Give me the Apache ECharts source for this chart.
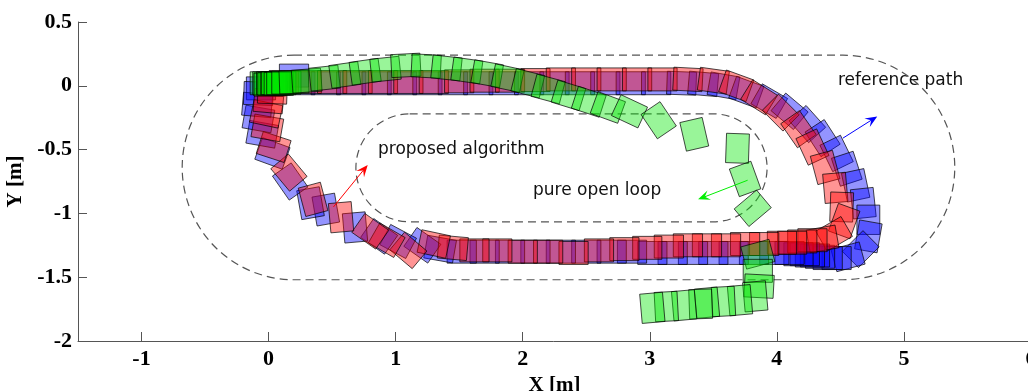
<!DOCTYPE html>
<html>
<head>
<meta charset="utf-8">
<title>Trajectories</title>
<script src="https://cdn.jsdelivr.net/npm/echarts@6/dist/echarts.min.js"></script>
<style>
  html, body { margin: 0; padding: 0; background: #fff; }
  #main { width: 1028px; height: 391px; }
</style>
</head>
<body>
<div id="main"></div>
<script>
// robot poses: [x (m), y (m), box angle (deg)]
const bluePoses = [
  [-0.06, -0.02, 0], [0.0, 0.01, 0], [0.06, 0.02, 0], [0.2, 0.08, 0], [0.25, 0.02, 0],
  [0.45, 0.02, 0], [0.65, 0.02, 0], [0.85, 0.02, 0], [1.05, 0.02, 0], [1.25, 0.02, 0],
  [1.45, 0.02, 0], [1.65, 0.02, 0], [1.85, 0.02, 0], [2.05, 0.02, 0], [2.25, 0.02, 0],
  [2.45, 0.02, 0], [2.65, 0.02, 0], [2.85, 0.02, 0], [3.05, 0.02, 0], [3.25, 0.02, -2],
  [3.42, 0.015, -5],
  [3.58, 0.0, -10], [3.76, -0.05, -20], [3.94, -0.12, -30], [4.1, -0.2, -40], [4.24, -0.3, -48],
  [4.36, -0.41, -57], [4.47, -0.53, -64], [4.55, -0.65, -72], [4.62, -0.78, -78], [4.68, -0.92, -84],
  [4.72, -1.05, -90], [4.72, -1.18, -100], [4.66, -1.28, -135], [4.56, -1.34, -165],
  [4.47, -1.35, 180], [4.4, -1.35, 180], [4.34, -1.34, 180], [4.3, -1.33, 180], [4.26, -1.33, 180],
  [4.22, -1.32, 180], [4.17, -1.32, 180], [4.1, -1.31, 180],
  [3.98, -1.31, 180], [3.82, -1.31, 180], [3.66, -1.31, 180], [3.5, -1.31, 180], [3.34, -1.31, 180],
  [3.18, -1.31, 180], [3.02, -1.31, 180], [2.86, -1.3, 180], [2.7, -1.3, 180], [2.5, -1.3, 180],
  [2.3, -1.3, 180], [2.1, -1.3, 180], [1.9, -1.3, 180], [1.7, -1.3, 180],
  [1.52, -1.3, 0], [1.35, -1.28, 170], [1.21, -1.25, 145], [1.02, -1.22, 152], [0.87, -1.18, 145],
  [0.68, -1.11, 95], [0.45, -0.97, 100], [0.33, -0.92, 100], [0.17, -0.75, 125], [0.03, -0.53, 160],
  [-0.05, -0.38, 170], [-0.08, -0.26, 170], [-0.09, -0.15, 175], [-0.08, -0.06, 178]
]

const redPoses = [
  [0.02, 0.01, 0], [0.07, 0.02, 0], [0.12, 0.03, 0], [0.3, 0.03, 0], [0.5, 0.03, 0],
  [0.7, 0.03, 0], [0.9, 0.03, 0], [1.1, 0.03, 0], [1.3, 0.03, 0], [1.5, 0.035, 0],
  [1.7, 0.04, 0], [1.9, 0.04, 0], [2.1, 0.045, 0], [2.3, 0.05, 0], [2.5, 0.05, 0],
  [2.7, 0.05, 0], [2.9, 0.05, 0], [3.1, 0.05, 0], [3.3, 0.05, -3],
  [3.5, 0.04, -8], [3.68, 0.0, -20], [3.86, -0.09, -32], [4.03, -0.21, -45], [4.17, -0.34, -55],
  [4.28, -0.48, -65], [4.38, -0.64, -75], [4.46, -0.8, -85], [4.51, -0.95, -92], [4.53, -1.06, -110],
  [4.45, -1.16, -150], [4.36, -1.2, -170], [4.28, -1.21, 180], [4.2, -1.22, 180], [4.12, -1.23, 180],
  [4.04, -1.23, 180],
  [3.9, -1.24, 180], [3.75, -1.24, 180], [3.6, -1.25, 180], [3.45, -1.25, 180], [3.3, -1.25, 180],
  [3.15, -1.26, 180], [2.98, -1.27, 180], [2.8, -1.28, 180], [2.6, -1.29, 180], [2.4, -1.31, 180],
  [2.2, -1.3, 180], [2.0, -1.3, 180], [1.8, -1.29, 180],
  [1.62, -1.29, 0], [1.45, -1.27, -5], [1.3, -1.24, -12], [1.1, -1.29, 140], [0.93, -1.21, 150],
  [0.8, -1.14, 145], [0.57, -1.03, 95], [0.35, -0.89, 105], [0.16, -0.68, 130], [0.04, -0.48, 162],
  [-0.01, -0.33, 170], [-0.02, -0.22, 168], [0.0, -0.12, 175], [0.03, -0.05, 178]
]

const greenPoses = [
  [-0.03, 0.02, 0], [-0.01, 0.02, 0], [0.0, 0.01, 0], [0.02, 0.02, 0], [0.03, 0.015, 0],
  [0.05, 0.02, 0], [0.06, 0.02, 0], [0.08, 0.015, 0], [0.1, 0.02, 0], [0.14, 0.025, 0],
  [0.2, 0.03, 2], [0.3, 0.04, 4], [0.44, 0.06, 6], [0.6, 0.085, 8], [0.76, 0.11, 8],
  [0.92, 0.13, 6], [1.08, 0.16, 3], [1.24, 0.155, -3], [1.4, 0.14, -6], [1.56, 0.12, -8],
  [1.72, 0.095, -10], [1.88, 0.06, -12], [2.04, 0.02, -14], [2.2, -0.025, -15], [2.36, -0.075, -17],
  [2.52, -0.125, -18], [2.67, -0.17, -20], [2.84, -0.2, -25], [3.07, -0.27, -56], [3.35, -0.38, -77],
  [3.69, -0.49, 88], [3.75, -0.73, 110], [3.81, -0.96, 40], [3.85, -1.32, 15], [3.85, -1.45, 0],
  [3.86, -1.57, -3], [3.83, -1.65, 95], [3.71, -1.68, 95], [3.58, -1.69, 93], [3.45, -1.7, 95],
  [3.4, -1.71, 92], [3.27, -1.72, 95], [3.13, -1.73, 93], [3.02, -1.74, 95]
]

// dashed race tracks: left centre x, right centre x, centre y, radius
const trackLeftX = [0.20, 1.11]
const trackRightX = [4.52, 3.50]
const trackY = [-0.64, -0.643]
const trackR = [0.88, 0.423]

// annotation arrows
const arrowFromX = [0.51, 4.52, 3.77]
const arrowFromY = [-0.95, -0.41, -0.74]
const arrowToX = [0.78, 4.79, 3.38]
const arrowToY = [-0.62, -0.24, -0.89]
const arrowColors = ['#ff0000', '#0000ff', '#00ee00']

const xTicks = [-1, 0, 1, 2, 3, 4, 5, 6]

const boxLength = 0.23
const boxWidth = 0.18

const chart = echarts.init(document.getElementById('main'))

function boxSeries (name, poses, fill) {
  return {
    name: name,
    type: 'custom',
    coordinateSystem: 'cartesian2d',
    dimensions: ['x', 'y', 'a'],
    encode: { x: 0, y: 1 },
    data: poses,
    silent: true,
    renderItem: function (params, api) {
      const x = api.value(0)
      const y = api.value(1)
      const a = api.value(2) * Math.PI / 180
      const c = Math.cos(a)
      const s = Math.sin(a)
      const hl = boxLength / 2
      const hw = boxWidth / 2
      const pts = [[hl, hw], [-hl, hw], [-hl, -hw], [hl, -hw]].map(function (p) {
        return api.coord([x + p[0] * c - p[1] * s, y + p[0] * s + p[1] * c])
      })
      return {
        type: 'polygon',
        shape: { points: pts },
        style: { fill: fill, stroke: 'rgba(0,0,0,0.7)', lineWidth: 1 }
      }
    }
  }
}

const trackData = trackLeftX.map(function (v, i) {
  return [v, trackRightX[i], trackY[i], trackR[i]]
})

const arrowData = arrowFromX.map(function (v, i) {
  return [v, arrowFromY[i], arrowToX[i], arrowToY[i], i]
})

const serif = 'Liberation Serif, Times New Roman, serif'

const option = {
  animation: false,
  grid: { left: 78, right: -3, top: 22, bottom: 50, outerBoundsMode: 'none' },
  xAxis: {
    type: 'value',
    min: -1.5,
    max: 6,
    interval: 0.5,
    name: 'X [m]',
    nameLocation: 'middle',
    nameGap: 27,
    nameTextStyle: { fontFamily: serif, fontWeight: 'bold', fontSize: 21, color: '#000' },
    axisLine: { onZero: false, lineStyle: { color: '#555', width: 1 } },
    axisTick: { inside: true, length: 9, customValues: xTicks, lineStyle: { color: '#555' } },
    axisLabel: { customValues: xTicks, margin: 7, fontFamily: serif, fontWeight: 'bold', fontSize: 22, color: '#000' },
    splitLine: { show: false }
  },
  yAxis: {
    type: 'value',
    min: -2,
    max: 0.5,
    interval: 0.5,
    name: 'Y [m]',
    nameLocation: 'middle',
    nameGap: 46,
    nameRotate: 90,
    nameTextStyle: { fontFamily: serif, fontWeight: 'bold', fontSize: 21, color: '#000' },
    axisLine: { show: true, onZero: false, lineStyle: { color: '#555', width: 1 } },
    axisTick: { show: true, inside: true, length: 9, lineStyle: { color: '#555' } },
    axisLabel: { margin: 6, fontFamily: serif, fontWeight: 'bold', fontSize: 22, color: '#000' },
    splitLine: { show: false }
  },
  graphic: [
    { type: 'text', x: 378, y: 150, style: { text: 'proposed algorithm', font: '17px "DejaVu Sans"', fill: '#111', textAlign: 'left', textVerticalAlign: 'middle' } },
    { type: 'text', x: 533, y: 191, style: { text: 'pure open loop', font: '17px "DejaVu Sans"', fill: '#111', textAlign: 'left', textVerticalAlign: 'middle' } },
    { type: 'text', x: 838, y: 81, style: { text: 'reference path', font: '17px "DejaVu Sans"', fill: '#111', textAlign: 'left', textVerticalAlign: 'middle' } }
  ],
  series: [
    {
      type: 'custom',
      coordinateSystem: 'cartesian2d',
      data: trackData,
      silent: true,
      renderItem: function (params, api) {
        const p1 = api.coord([api.value(0), api.value(2)])
        const p2 = api.coord([api.value(1), api.value(2)])
        const sz = api.size([api.value(3), api.value(3)])
        const rx = sz[0]
        const ry = sz[1]
        const d = 'M' + p1[0] + ' ' + (p1[1] - ry) +
          ' L' + p2[0] + ' ' + (p2[1] - ry) +
          ' A' + rx + ' ' + ry + ' 0 0 1 ' + p2[0] + ' ' + (p2[1] + ry) +
          ' L' + p1[0] + ' ' + (p1[1] + ry) +
          ' A' + rx + ' ' + ry + ' 0 0 1 ' + p1[0] + ' ' + (p1[1] - ry) + ' Z'
        return {
          type: 'path',
          shape: { pathData: d },
          style: { fill: 'none', stroke: '#555', lineWidth: 1.2, lineDash: [8, 5] }
        }
      }
    },
    boxSeries('reference path', bluePoses, 'rgba(0,0,255,0.42)'),
    boxSeries('proposed algorithm', redPoses, 'rgba(255,0,0,0.42)'),
    boxSeries('pure open loop', greenPoses, 'rgba(0,230,0,0.4)'),
    {
      type: 'custom',
      coordinateSystem: 'cartesian2d',
      data: arrowData,
      silent: true,
      z: 5,
      renderItem: function (params, api) {
        const p1 = api.coord([api.value(0), api.value(1)])
        const p2 = api.coord([api.value(2), api.value(3)])
        const color = arrowColors[api.value(4)]
        const dx = p2[0] - p1[0]
        const dy = p2[1] - p1[1]
        const len = Math.sqrt(dx * dx + dy * dy)
        const ux = dx / len
        const uy = dy / len
        const hl = 12
        const hw = 5
        const bx = p2[0] - ux * hl
        const by = p2[1] - uy * hl
        const nx = p2[0] - ux * hl * 0.6
        const ny = p2[1] - uy * hl * 0.6
        return {
          type: 'group',
          children: [
            { type: 'line', shape: { x1: p1[0], y1: p1[1], x2: nx, y2: ny }, style: { stroke: color, lineWidth: 1 } },
            {
              type: 'polygon',
              shape: { points: [p2, [bx - uy * hw, by + ux * hw], [nx, ny], [bx + uy * hw, by - ux * hw]] },
              style: { fill: color }
            }
          ]
        }
      }
    }
  ]
}

chart.setOption(option)
</script>
</body>
</html>
